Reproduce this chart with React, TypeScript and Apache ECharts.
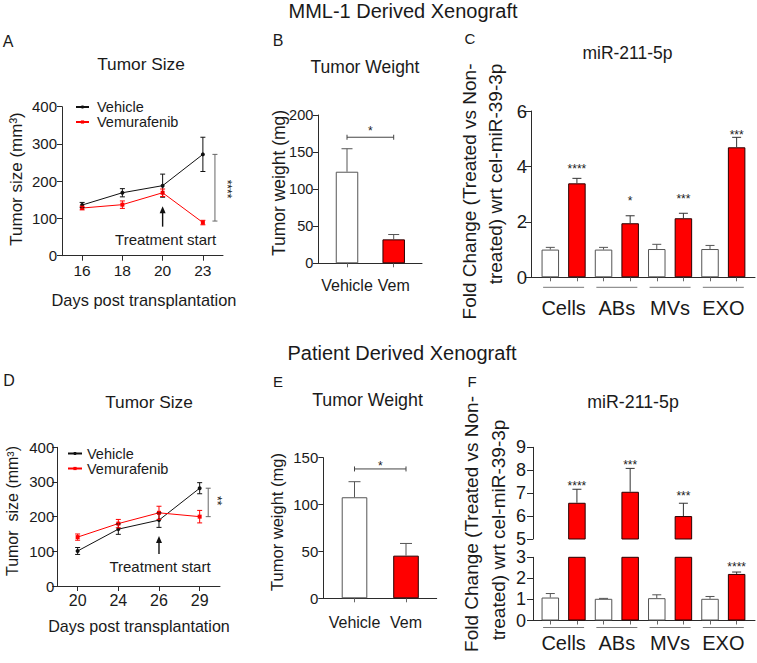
import React, { useEffect, useRef } from 'react';
import * as echarts from 'echarts';

const FONT = '"Liberation Sans", Arial, Helvetica, sans-serif';
const TXT = '#1a1a1a';
const AX = '#2b2b2b';
const RED = '#ff0000';
const RED_EDGE = '#2a0000';
const GREY_EDGE = '#555555';

// ---------- Panel A : MML-1 tumour size ----------
const daysA = ['16', '18', '20', '23'];
const sizeTicksA = [0, 100, 200, 300, 400];
const vehicleA = [136, 169, 188, 272];
const vehicleAErr = [7, 11, 31, 46];
const vemA = [128, 137, 169, 89];
const vemAErr = [5, 10, 10, 6];
const sigA = [93, 272];
const starsA = '****';
const starsAY = 179;
const arrowA = [78, 133, 43]; // base, tip, label level

// ---------- Panel B : MML-1 tumour weight ----------
const groupsWeight = ['Vehicle', 'Vem'];
const weightTicksB = [0, 50, 100, 150, 200];
const weightB = [123.5, 32.3];
const weightBErr = [31, 6.5];
const sigB = 170;

// ---------- Panel C : MML-1 miR-211-5p ----------
const fractions = ['Cells', 'ABs', 'MVs', 'EXO'];
const foldTicksC = [0, 2, 4, 6];
const cVehicle = [1.0, 1.0, 1.02, 1.02];
const cVehicleErr = [0.08, 0.08, 0.17, 0.13];
const cVem = [3.39, 1.95, 2.13, 4.69];
const cVemErr = [0.18, 0.27, 0.18, 0.36];
const cStars = ['****', '*', '***', '***'];
const cStarsY = [4.0, 2.87, 2.92, 5.26];

// ---------- Panel D : PDX tumour size ----------
const daysD = ['20', '24', '26', '29'];
const sizeTicksD = [0, 100, 200, 300, 400];
const vehicleD = [101, 164, 190, 282];
const vehicleDErr = [10, 15, 21, 16];
const vemD = [141, 180, 211, 200];
const vemDErr = [9, 12, 19, 18];
const sigD = [200, 282];
const starsD = '**';
const starsDY = 246;
const arrowD = [92, 144, 56];

// ---------- Panel E : PDX tumour weight ----------
const weightTicksE = [0, 50, 100, 150];
const weightE = [107.8, 45.5];
const weightEErr = [16.6, 13];
const sigE = 138;

// ---------- Panel F : PDX miR-211-5p (broken axis) ----------
const foldTicksFUpper = [5, 6, 7, 8, 9];
const foldTicksFLower = [0, 1, 2, 3];
const fVehicle = [1.09, 1.03, 1.06, 1.03];
const fVehicleErr = [0.19, 0.02, 0.16, 0.11];
const fVem = [6.58, 7.06, 6.0, 2.21];
const fVemErr = [0.59, 1.02, 0.56, 0.09];
const fStars = ['****', '***', '***', '****'];
const fStarsY = [7.43, 8.35, 7.02, 2.68];

// ---------- helpers ----------
const ln = (x1: number, y1: number, x2: number, y2: number, stroke: string, lineWidth = 1) => ({
  type: 'line',
  shape: { x1, y1, x2, y2 },
  style: { stroke, lineWidth },
});

function errSeries(gi: number, pts: number[][], color: string, cap: number, both: boolean) {
  return {
    type: 'custom',
    xAxisIndex: gi,
    yAxisIndex: gi,
    z: 5,
    silent: true,
    data: pts,
    renderItem: (params: any, api: any) => {
      const x = api.value(0);
      const m = api.value(1);
      const e = api.value(2);
      const t = api.coord([x, m + e]);
      const b = api.coord([x, both ? m - e : m]);
      const ch: any[] = [ln(t[0], t[1], b[0], b[1], color), ln(t[0] - cap / 2, t[1], t[0] + cap / 2, t[1], color)];
      if (both) ch.push(ln(b[0] - cap / 2, b[1], b[0] + cap / 2, b[1], color));
      return { type: 'group', children: ch };
    },
  };
}

// bandFrac: horizontal shift expressed as a fraction of a category band
function textSeries(
  gi: number,
  pts: number[][],
  labels: string[],
  fontSize: number,
  dx = 0,
  dy = 0,
  rotation = 0,
  bandFrac = 0,
) {
  return {
    type: 'custom',
    xAxisIndex: gi,
    yAxisIndex: gi,
    z: 6,
    silent: true,
    data: pts,
    renderItem: (params: any, api: any) => {
      const p = api.coord([api.value(0), api.value(1)]);
      const shift = bandFrac ? bandFrac * api.size([1, 0])[0] : 0;
      return {
        type: 'text',
        x: p[0] + dx + shift,
        y: p[1] + dy,
        rotation,
        style: {
          text: labels[params.dataIndex],
          fontSize,
          fontFamily: FONT,
          fill: TXT,
          align: 'center',
          verticalAlign: 'middle',
        },
      };
    },
  };
}

function vBracket(gi: number, x: number, bandFrac: number, lo: number, hi: number) {
  return {
    type: 'custom',
    xAxisIndex: gi,
    yAxisIndex: gi,
    z: 5,
    silent: true,
    data: [[x, lo, hi]],
    renderItem: (params: any, api: any) => {
      const shift = bandFrac * api.size([1, 0])[0];
      const a = api.coord([api.value(0), api.value(1)]);
      const b = api.coord([api.value(0), api.value(2)]);
      const xx = a[0] + shift;
      return {
        type: 'group',
        children: [
          ln(xx, a[1], xx, b[1], '#666'),
          ln(xx - 2.5, a[1], xx + 2.5, a[1], '#666'),
          ln(xx - 2.5, b[1], xx + 2.5, b[1], '#666'),
        ],
      };
    },
  };
}

function hBracket(gi: number, x0: number, x1: number, y: number) {
  return {
    type: 'custom',
    xAxisIndex: gi,
    yAxisIndex: gi,
    z: 5,
    silent: true,
    data: [[x0, x1, y]],
    renderItem: (params: any, api: any) => {
      const a = api.coord([api.value(0), api.value(2)]);
      const b = api.coord([api.value(1), api.value(2)]);
      return {
        type: 'group',
        children: [
          ln(a[0], a[1], b[0], b[1], '#444'),
          ln(a[0], a[1] - 2.5, a[0], a[1] + 2.5, '#444'),
          ln(b[0], b[1] - 2.5, b[0], b[1] + 2.5, '#444'),
        ],
      };
    },
  };
}

function arrowSeries(gi: number, x: number, base: number, tip: number) {
  return {
    type: 'custom',
    xAxisIndex: gi,
    yAxisIndex: gi,
    z: 5,
    silent: true,
    data: [[x, base, tip]],
    renderItem: (params: any, api: any) => {
      const a = api.coord([api.value(0), api.value(1)]);
      const b = api.coord([api.value(0), api.value(2)]);
      return {
        type: 'group',
        children: [
          ln(a[0], a[1], b[0], b[1] + 5, '#111', 1.4),
          {
            type: 'polygon',
            shape: { points: [[b[0], b[1]], [b[0] - 3, b[1] + 7], [b[0] + 3, b[1] + 7]] },
            style: { fill: '#111' },
          },
        ],
      };
    },
  };
}

function underlineSeries(gi: number, n: number, dy: number) {
  const pts = Array.from({ length: n }, (_, i) => [2 * i - 0.27, 2 * i + 1.27]);
  return {
    type: 'custom',
    xAxisIndex: gi,
    yAxisIndex: gi,
    z: 5,
    silent: true,
    data: pts,
    renderItem: (params: any, api: any) => {
      const a = api.coord([api.value(0), 0]);
      const b = api.coord([api.value(1), 0]);
      return ln(a[0], a[1] + dy, b[0], b[1] + dy, '#777');
    },
  };
}

const whiteStyle = { color: '#ffffff', borderColor: GREY_EDGE, borderWidth: 1 };
const redStyle = { color: RED, borderColor: RED_EDGE, borderWidth: 1 };

function pairedBars(veh: number[], vem: number[], keep: (v: number) => boolean) {
  const items: any[] = [];
  veh.forEach((v, i) => {
    if (keep(v)) items.push({ value: [2 * i, v], itemStyle: whiteStyle });
    if (keep(vem[i])) items.push({ value: [2 * i + 1, vem[i]], itemStyle: redStyle });
  });
  return items;
}

const yAxisBase = (gi: number, ticks: number[], fontSize: number, margin: number, extra: any = {}) => ({
  type: 'value',
  gridIndex: gi,
  min: ticks[0],
  max: ticks[ticks.length - 1],
  interval: ticks[1] - ticks[0],
  axisLine: { show: true, onZero: false, lineStyle: { color: AX, width: 1 } },
  axisTick: { show: true, length: 5, lineStyle: { color: AX } },
  axisLabel: { fontSize, margin, color: TXT, fontFamily: FONT },
  splitLine: { show: false },
  ...extra,
});

const catX = (gi: number, data: string[], fontSize: number, margin: number) => ({
  type: 'category',
  gridIndex: gi,
  data,
  boundaryGap: true,
  axisLine: { show: true, onZero: false, lineStyle: { color: AX } },
  axisTick: { show: true, alignWithLabel: true, length: 5, lineStyle: { color: AX } },
  axisLabel: { fontSize, margin, color: TXT, fontFamily: FONT },
  splitLine: { show: false },
});

const valX = (
  gi: number,
  min: number,
  max: number,
  tickVals: number[],
  labelVals: number[],
  fmt: (v: number) => string,
  fontSize: number,
  margin: number,
  show = true,
) => ({
  type: 'value',
  gridIndex: gi,
  min,
  max,
  show,
  axisLine: { show, onZero: false, lineStyle: { color: AX } },
  axisTick: { show, customValues: tickVals, length: 4, lineStyle: { color: '#666' } },
  axisLabel: { show, customValues: labelVals, formatter: fmt, fontSize, margin, color: TXT, fontFamily: FONT },
  splitLine: { show: false },
});

const txt = (text: string, x: number, y: number, fontSize: number, rotation = 0) => ({
  type: 'text',
  x,
  y,
  rotation,
  silent: true,
  style: { text, fontSize, fontFamily: FONT, fill: TXT, align: 'center', verticalAlign: 'middle' },
});

function buildOption(): any {
  const fracFmt = (v: number) => fractions[Math.round((v - 0.5) / 2)] ?? '';
  const wFmt = (v: number) => groupsWeight[Math.round(v)] ?? '';
  const fracLabelPos = fractions.map((_, i) => 2 * i + 0.5);
  const barPos = Array.from({ length: fractions.length * 2 }, (_, i) => i);

  const lineSeries = (gi: number, name: string, data: number[], color: string, symbol: string) => ({
    type: 'line',
    name,
    xAxisIndex: gi,
    yAxisIndex: gi,
    data,
    symbol,
    symbolSize: 4,
    color,
    lineStyle: { color, width: 1 },
    itemStyle: { color },
    z: 4,
  });

  const errPts = (m: number[], e: number[], xs?: number[]) => m.map((v, i) => [xs ? xs[i] : i, v, e[i]]);

  const fUpperMin = foldTicksFUpper[0];
  const fLowerMax = foldTicksFLower[foldTicksFLower.length - 1];
  const lastA = daysA.length - 1;
  const lastD = daysD.length - 1;
  const startA = daysA.indexOf('20');
  const startD = daysD.indexOf('26');

  const series: any[] = [
    // A
    lineSeries(0, 'Vehicle', vehicleA, '#111111', 'circle'),
    lineSeries(0, 'Vemurafenib', vemA, RED, 'rect'),
    errSeries(0, errPts(vehicleA, vehicleAErr), '#111', 5, true),
    errSeries(0, errPts(vemA, vemAErr), RED, 5, true),
    vBracket(0, lastA, 0.3, sigA[0], sigA[1]),
    textSeries(0, [[lastA, starsAY]], [starsA], 12, 0, 0, -Math.PI / 2, 0.6),
    arrowSeries(0, startA, arrowA[0], arrowA[1]),
    textSeries(0, [[startA, arrowA[2]]], ['Treatment start'], 15, 3, 0),
    // B
    {
      type: 'bar',
      xAxisIndex: 1,
      yAxisIndex: 1,
      barWidth: 22.5,
      data: weightB.map((v, i) => ({ value: [i, v], itemStyle: i === 0 ? whiteStyle : redStyle })),
    },
    errSeries(1, errPts(weightB, weightBErr), '#555', 11, false),
    hBracket(1, 0, 1, sigB),
    textSeries(1, [[0.5, sigB]], ['*'], 12, 0, -6),
    // C
    {
      type: 'bar',
      xAxisIndex: 2,
      yAxisIndex: 2,
      barWidth: 17.5,
      data: pairedBars(cVehicle, cVem, () => true),
    },
    errSeries(2, errPts(cVehicle, cVehicleErr, cVehicle.map((_, i) => 2 * i)), '#555', 9, false),
    errSeries(2, errPts(cVem, cVemErr, cVem.map((_, i) => 2 * i + 1)), '#333', 9, false),
    textSeries(2, cStarsY.map((v, i) => [2 * i + 1, v]), cStars, 12, 0, 3),
    underlineSeries(2, fractions.length, 10),
    // D
    lineSeries(3, 'Vehicle', vehicleD, '#111111', 'circle'),
    lineSeries(3, 'Vemurafenib', vemD, RED, 'rect'),
    errSeries(3, errPts(vehicleD, vehicleDErr), '#111', 5, true),
    errSeries(3, errPts(vemD, vemDErr), RED, 5, true),
    vBracket(3, lastD, 0.21, sigD[0], sigD[1]),
    textSeries(3, [[lastD, starsDY]], [starsD], 12, 0, 0, -Math.PI / 2, 0.42),
    arrowSeries(3, startD, arrowD[0], arrowD[1]),
    textSeries(3, [[startD, arrowD[2]]], ['Treatment start'], 15, 1, 0),
    // E
    {
      type: 'bar',
      xAxisIndex: 4,
      yAxisIndex: 4,
      barWidth: 25.6,
      data: weightE.map((v, i) => ({ value: [i, v], itemStyle: i === 0 ? whiteStyle : redStyle })),
    },
    errSeries(4, errPts(weightE, weightEErr), '#555', 12, false),
    hBracket(4, 0, 1, sigE),
    textSeries(4, [[0.5, sigE]], ['*'], 12, 0, -3),
    // F upper
    {
      type: 'bar',
      xAxisIndex: 5,
      yAxisIndex: 5,
      barWidth: 17.5,
      clip: true,
      data: pairedBars(fVehicle, fVem, (v) => v > fUpperMin),
    },
    errSeries(
      5,
      fVem.map((v, i) => [2 * i + 1, v, fVemErr[i]]).filter((p) => p[1] > fUpperMin),
      '#333',
      9,
      false,
    ),
    textSeries(
      5,
      fStarsY.map((v, i) => [2 * i + 1, v]).filter((p) => p[1] > fUpperMin),
      fStars.filter((_, i) => fStarsY[i] > fUpperMin),
      12,
      0,
      3,
    ),
    // F lower
    {
      type: 'bar',
      xAxisIndex: 6,
      yAxisIndex: 6,
      barWidth: 17.5,
      clip: true,
      data: pairedBars(fVehicle, fVem, () => true),
    },
    errSeries(6, errPts(fVehicle, fVehicleErr, fVehicle.map((_, i) => 2 * i)), '#555', 9, false),
    errSeries(
      6,
      fVem.map((v, i) => [2 * i + 1, v, fVemErr[i]]).filter((p) => p[1] + p[2] < fLowerMax),
      '#333',
      9,
      false,
    ),
    textSeries(
      6,
      fStarsY.map((v, i) => [2 * i + 1, v]).filter((p) => p[1] < fLowerMax),
      fStars.filter((_, i) => fStarsY[i] < fLowerMax),
      12,
      0,
      3,
    ),
    underlineSeries(6, fractions.length, 7),
  ];

  return {
    animation: false,
    backgroundColor: '#ffffff',
    textStyle: { fontFamily: FONT },
    grid: [
      { left: 62, top: 106.7, width: 161, height: 149, outerBoundsMode: 'none' },
      { left: 318, top: 115, width: 104, height: 148.3, outerBoundsMode: 'none' },
      { left: 531, top: 111, width: 224, height: 166.3, outerBoundsMode: 'none' },
      { left: 57.3, top: 447.3, width: 162.7, height: 138.7, outerBoundsMode: 'none' },
      { left: 323.3, top: 457.7, width: 113.4, height: 140.6, outerBoundsMode: 'none' },
      { left: 533, top: 447.3, width: 222, height: 91.7, outerBoundsMode: 'none' },
      { left: 533, top: 557.3, width: 222, height: 63.2, outerBoundsMode: 'none' },
    ],
    xAxis: [
      catX(0, daysA, 15.5, 6.5),
      valX(1, -0.621, 1.606, [0, 1], [0, 1], wFmt, 16, 13.7),
      valX(2, -0.725, 7.69, barPos, fracLabelPos, fracFmt, 20, 20.7),
      catX(3, daysD, 16, 6),
      valX(4, -0.606, 1.596, [0, 1], [0, 1], wFmt, 16, 16.4),
      valX(5, -0.65, 7.69, barPos, fracLabelPos, fracFmt, 20, 13, false),
      valX(6, -0.65, 7.69, barPos, fracLabelPos, fracFmt, 20, 12.8),
    ],
    yAxis: [
      yAxisBase(0, sizeTicksA, 15, 5),
      yAxisBase(1, weightTicksB, 14.5, 4.7),
      yAxisBase(2, foldTicksC, 18.5, 4, { axisTick: { show: true, length: 6, lineStyle: { color: AX } } }),
      yAxisBase(3, sizeTicksD, 15, 3),
      yAxisBase(4, weightTicksE, 15, 5),
      yAxisBase(5, foldTicksFUpper, 18, 7, { axisTick: { show: true, length: 6, lineStyle: { color: AX } } }),
      yAxisBase(6, foldTicksFLower, 18, 7, { axisTick: { show: true, length: 6, lineStyle: { color: AX } } }),
    ],
    legend: [
      {
        left: 75,
        top: 99.5,
        orient: 'vertical',
        padding: 0,
        itemGap: 0,
        itemWidth: 13,
        itemHeight: 4,
        selectedMode: false,
        textStyle: { fontSize: 14.5, lineHeight: 13, fontFamily: FONT, color: TXT, padding: [0, 0, 0, 3] },
        data: ['Vehicle', 'Vemurafenib'],
      },
      {
        left: 67,
        top: 446,
        orient: 'vertical',
        padding: 0,
        itemGap: 0,
        itemWidth: 14,
        itemHeight: 4,
        selectedMode: false,
        textStyle: { fontSize: 14.5, lineHeight: 12.5, fontFamily: FONT, color: TXT, padding: [0, 0, 0, 0] },
        data: ['Vehicle', 'Vemurafenib'],
      },
    ],
    graphic: {
      elements: [
        txt('MML-1 Derived Xenograft', 403, 11, 20),
        txt('Patient Derived Xenograft', 402, 353, 20),
        txt('A', 8, 41, 16),
        txt('B', 278, 40, 16),
        txt('C', 470, 38, 15),
        txt('D', 9, 380, 16),
        txt('E', 278, 381, 15),
        txt('F', 472, 381, 15),
        txt('Tumor Size', 141, 64, 17.3),
        txt('Tumor Weight', 365, 66.5, 17.5),
        txt('miR-211-5p', 627.5, 52.5, 17.5),
        txt('Tumor Size', 149, 401.5, 17.3),
        txt('Tumor Weight', 367.5, 399.5, 17.8),
        txt('miR-211-5p', 633, 402, 17.8),
        txt('Days post transplantation', 144, 299.5, 16.4),
        txt('Days post transplantation', 139, 625.5, 16.1),
        txt('Tumor size (mm³)', 16.5, 179, 17, Math.PI / 2),
        txt('Tumor weight (mg)', 279, 183, 17.5, Math.PI / 2),
        txt('Tumor  size (mm³)', 12, 511, 16, Math.PI / 2),
        txt('Tumor weight (mg)', 277, 522, 16.5, Math.PI / 2),
        txt('Fold Change (Treated vs Non-', 469, 191.5, 19, Math.PI / 2),
        txt('treated) wrt cel-miR-39-3p', 495, 174, 19, Math.PI / 2),
        txt('Fold Change (Treated vs Non-', 471, 524, 19, Math.PI / 2),
        txt('treated) wrt cel-miR-39-3p', 498, 530, 19, Math.PI / 2),
      ],
    },
    series,
  };
}

export default function App() {
  const ref = useRef<HTMLDivElement>(null);
  useEffect(() => {
    if (!ref.current) return;
    const chart = echarts.init(ref.current, undefined, { renderer: 'svg' });
    chart.setOption(buildOption());
    return () => chart.dispose();
  }, []);
  return (
    <div
      ref={ref}
      style={{ position: 'fixed', left: 0, top: 0, width: 757, height: 663, background: '#fff' }}
    />
  );
}
